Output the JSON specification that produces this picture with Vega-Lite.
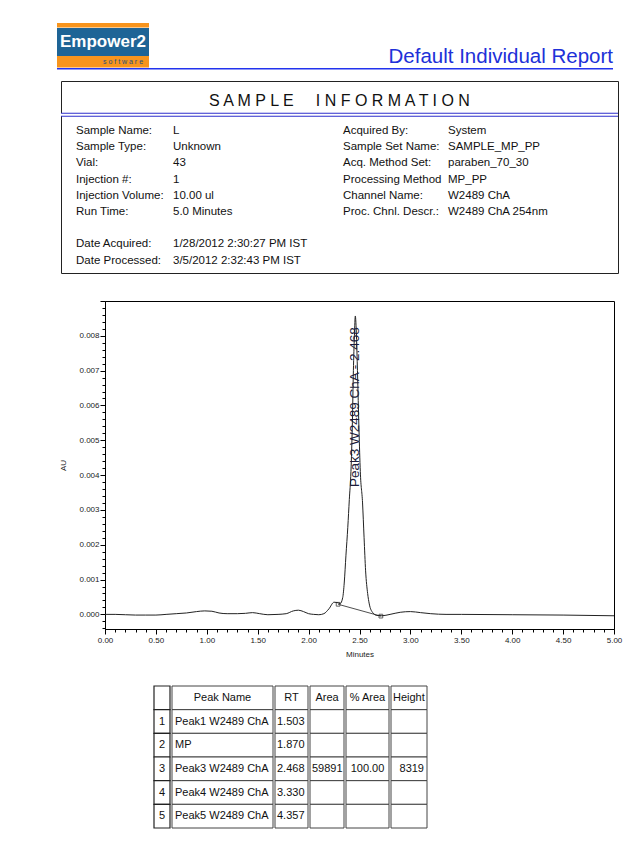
{
  "$schema": "https://vega.github.io/schema/vega-lite/v6.json",
  "background": "white",
  "padding": {"left": 57, "top": 23, "right": 0, "bottom": 0},
  "spacing": 0,
  "config": {
    "view": {"stroke": null},
    "font": "Liberation Sans",
    "concat": {"spacing": 0},
    "text": {"font": "Liberation Sans", "color": "#111"}
  },
  "datasets": {
    "trace": [
      {"t": 0.00, "au": 0.00000}, {"t": 0.10, "au": 0.00000}, {"t": 0.20, "au": -0.00001}, {"t": 0.30, "au": -0.00002},
      {"t": 0.40, "au": -0.00002}, {"t": 0.50, "au": -0.00002}, {"t": 0.60, "au": 0.00000}, {"t": 0.70, "au": 0.00002},
      {"t": 0.80, "au": 0.00004}, {"t": 0.90, "au": 0.00008}, {"t": 0.98, "au": 0.00010}, {"t": 1.05, "au": 0.00009},
      {"t": 1.12, "au": 0.00004}, {"t": 1.20, "au": 0.00002}, {"t": 1.30, "au": 0.00002}, {"t": 1.38, "au": 0.00003},
      {"t": 1.45, "au": 0.00005}, {"t": 1.52, "au": 0.00002}, {"t": 1.60, "au": -0.00001}, {"t": 1.70, "au": 0.00000},
      {"t": 1.78, "au": 0.00002}, {"t": 1.85, "au": 0.00010}, {"t": 1.90, "au": 0.00012}, {"t": 1.95, "au": 0.00008},
      {"t": 2.00, "au": 0.00002}, {"t": 2.05, "au": 0.00000}, {"t": 2.10, "au": -0.00001}, {"t": 2.15, "au": 0.00002},
      {"t": 2.20, "au": 0.00016}, {"t": 2.25, "au": 0.00035}, {"t": 2.28, "au": 0.00034}, {"t": 2.31, "au": 0.00031},
      {"t": 2.335, "au": 0.00048}, {"t": 2.35, "au": 0.00090}, {"t": 2.367, "au": 0.00170}, {"t": 2.385, "au": 0.00250},
      {"t": 2.40, "au": 0.00330}, {"t": 2.416, "au": 0.00410}, {"t": 2.43, "au": 0.00550}, {"t": 2.44, "au": 0.00700},
      {"t": 2.45, "au": 0.00800}, {"t": 2.459, "au": 0.00857}, {"t": 2.47, "au": 0.00800}, {"t": 2.48, "au": 0.00700},
      {"t": 2.495, "au": 0.00530}, {"t": 2.508, "au": 0.00410}, {"t": 2.53, "au": 0.00320}, {"t": 2.545, "au": 0.00220},
      {"t": 2.56, "au": 0.00125}, {"t": 2.58, "au": 0.00060}, {"t": 2.596, "au": 0.00030}, {"t": 2.63, "au": 0.00005},
      {"t": 2.67, "au": -0.00003}, {"t": 2.72, "au": -0.00004}, {"t": 2.80, "au": 0.00000}, {"t": 2.90, "au": 0.00006},
      {"t": 3.00, "au": 0.00008}, {"t": 3.10, "au": 0.00005}, {"t": 3.20, "au": 0.00002}, {"t": 3.35, "au": 0.00000},
      {"t": 3.50, "au": 0.00000}, {"t": 4.00, "au": -0.00001}, {"t": 4.50, "au": -0.00002}, {"t": 5.00, "au": -0.00004}
    ],
    "intbase": [
      {"t": 2.29, "au": 0.00029},
      {"t": 2.71, "au": -0.00005}
    ],
    "peaklabel": [
      {"t": 2.46, "au": 0.00595, "label": "Peak3 W2489 ChA - 2.468"}
    ],
    "info": [
      {"side": 0, "line": 1, "label": "Sample Name:", "value": "L"},
      {"side": 0, "line": 2, "label": "Sample Type:", "value": "Unknown"},
      {"side": 0, "line": 3, "label": "Vial:", "value": "43"},
      {"side": 0, "line": 4, "label": "Injection #:", "value": "1"},
      {"side": 0, "line": 5, "label": "Injection Volume:", "value": "10.00 ul"},
      {"side": 0, "line": 6, "label": "Run Time:", "value": "5.0 Minutes"},
      {"side": 0, "line": 8, "label": "Date Acquired:", "value": "1/28/2012 2:30:27 PM IST"},
      {"side": 0, "line": 9, "label": "Date Processed:", "value": "3/5/2012 2:32:43 PM IST"},
      {"side": 1, "line": 1, "label": "Acquired By:", "value": "System"},
      {"side": 1, "line": 2, "label": "Sample Set Name:", "value": "SAMPLE_MP_PP"},
      {"side": 1, "line": 3, "label": "Acq. Method Set:", "value": "paraben_70_30"},
      {"side": 1, "line": 4, "label": "Processing Method", "value": "MP_PP"},
      {"side": 1, "line": 5, "label": "Channel Name:", "value": "W2489 ChA"},
      {"side": 1, "line": 6, "label": "Proc. Chnl. Descr.:", "value": "W2489 ChA 254nm"}
    ],
    "table": [
      {"row": 0, "idx": "", "name": "Peak Name", "rt": "RT", "area": "Area", "pct": "% Area", "height": "Height"},
      {"row": 1, "idx": "1", "name": "Peak1 W2489 ChA", "rt": "1.503", "area": "", "pct": "", "height": ""},
      {"row": 2, "idx": "2", "name": "MP", "rt": "1.870", "area": "", "pct": "", "height": ""},
      {"row": 3, "idx": "3", "name": "Peak3 W2489 ChA", "rt": "2.468", "area": "59891", "pct": "100.00", "height": "8319"},
      {"row": 4, "idx": "4", "name": "Peak4 W2489 ChA", "rt": "3.330", "area": "", "pct": "", "height": ""},
      {"row": 5, "idx": "5", "name": "Peak5 W2489 ChA", "rt": "4.357", "area": "", "pct": "", "height": ""}
    ]
  },
  "vconcat": [
    {
      "spacing": 0,
      "hconcat": [
        {
          "spacing": 0,
          "vconcat": [
            {"width": 92, "height": 4.5, "data": {"values": [{}]}, "mark": {"type": "rect", "color": "#f7941d"}},
            {
              "width": 92, "height": 28,
              "data": {"values": [{"t": "Empower2"}]},
              "layer": [
                {"mark": {"type": "rect", "color": "#1e6496"}},
                {"mark": {"type": "text", "color": "#ffffff", "fontSize": 17, "fontWeight": "bold"}, "encoding": {"text": {"field": "t"}}}
              ]
            },
            {
              "width": 92, "height": 11.5,
              "data": {"values": [{"t": "s o f t w a r e"}]},
              "layer": [
                {"mark": {"type": "rect", "color": "#f7941d"}},
                {"mark": {"type": "text", "color": "#1e4f80", "fontSize": 7, "dx": 20}, "encoding": {"text": {"field": "t"}}}
              ]
            }
          ]
        },
        {
          "width": 464, "height": 44,
          "data": {"values": [{"t": "Default Individual Report"}]},
          "mark": {"type": "text", "align": "right", "baseline": "bottom", "fontSize": 20.5, "color": "#2030d8"},
          "encoding": {"text": {"field": "t"}, "x": {"value": "width"}, "y": {"value": "height"}}
        }
      ]
    },
    {"width": 556, "height": 1.5, "data": {"values": [{}]}, "mark": {"type": "rect", "color": "#2233ee"}},
    {"width": 10, "height": 10, "data": {"values": [{}]}, "mark": {"type": "rect", "opacity": 0}},
    {
      "spacing": 0,
      "hconcat": [
        {"width": 0.5, "height": 192, "data": {"values": [{}]}, "mark": {"type": "rect", "opacity": 0}},
        {
          "width": 557, "height": 192,
          "view": {"stroke": "#222", "strokeWidth": 1, "fill": "white"},
          "resolve": {"scale": {"x": "independent"}},
          "layer": [
            {
              "data": {"values": [{"line": 0}]},
              "mark": {"type": "rule", "color": "#2f2fcc", "strokeWidth": 4},
              "encoding": {"y": {"field": "line", "type": "quantitative", "axis": null, "scale": {"domain": [-2.0864, 9.7654], "reverse": true, "nice": false, "zero": false}}}
            },
            {
              "data": {"values": [{"line": 0}]},
              "mark": {"type": "rule", "color": "#ffffff", "strokeWidth": 2},
              "encoding": {"y": {"field": "line", "type": "quantitative", "axis": null, "scale": {"domain": [-2.0864, 9.7654], "reverse": true, "nice": false, "zero": false}}}
            },
            {
              "data": {"values": [{"line": -1, "t": "S A M P L E \u00a0\u00a0\u00a0 I N F O R M A T I O N"}]},
              "mark": {"type": "text", "fontSize": 16, "dy": 2, "color": "#111"},
              "encoding": {
                "y": {"field": "line", "type": "quantitative", "axis": null, "scale": {"domain": [-2.0864, 9.7654], "reverse": true, "nice": false, "zero": false}},
                "text": {"field": "t"}
              }
            },
            {
              "data": {"name": "info"},
              "mark": {"type": "text", "align": "left", "baseline": "middle", "fontSize": 11.5, "color": "#111"},
              "encoding": {
                "x": {"field": "side", "type": "quantitative", "axis": null, "scale": {"domain": [-0.05618, 2.03], "nice": false, "zero": false}},
                "y": {"field": "line", "type": "quantitative", "axis": null, "scale": {"domain": [-2.0864, 9.7654], "reverse": true, "nice": false, "zero": false}},
                "text": {"field": "label"}
              }
            },
            {
              "data": {"name": "info"},
              "mark": {"type": "text", "align": "left", "baseline": "middle", "fontSize": 11.5, "color": "#111"},
              "encoding": {
                "x": {"field": "side", "type": "quantitative", "axis": null, "scale": {"domain": [-0.40727, 1.61818], "nice": false, "zero": false}},
                "y": {"field": "line", "type": "quantitative", "axis": null, "scale": {"domain": [-2.0864, 9.7654], "reverse": true, "nice": false, "zero": false}},
                "text": {"field": "value"}
              }
            }
          ]
        }
      ]
    },
    {"width": 10, "height": 21.5, "data": {"values": [{}]}, "mark": {"type": "rect", "opacity": 0}},
    {
      "spacing": 0,
      "hconcat": [
        {"width": 1, "height": 328, "data": {"values": [{}]}, "mark": {"type": "rect", "opacity": 0}},
        {
          "width": 509, "height": 328,
          "view": {"stroke": "#000", "strokeWidth": 1},
          "encoding": {
            "x": {
              "field": "t", "type": "quantitative", "title": "Minutes",
              "scale": {"domain": [0, 5], "nice": false, "zero": false},
              "axis": {
                "values": [0, 0.1, 0.2, 0.3, 0.4, 0.5, 0.6, 0.7, 0.8, 0.9, 1, 1.1, 1.2, 1.3, 1.4, 1.5, 1.6, 1.7, 1.8, 1.9, 2, 2.1, 2.2, 2.3, 2.4, 2.5, 2.6, 2.7, 2.8, 2.9, 3, 3.1, 3.2, 3.3, 3.4, 3.5, 3.6, 3.7, 3.8, 3.9, 4, 4.1, 4.2, 4.3, 4.4, 4.5, 4.6, 4.7, 4.8, 4.9, 5],
                "labelExpr": "abs(round(datum.value*2)-datum.value*2) < 0.001 ? format(datum.value, '.2f') : ''",
                "tickSize": {"condition": {"test": "abs(round(datum.value*2)-datum.value*2) < 0.001", "value": 5}, "value": 3},
                "labelOverlap": false, "labelFlush": false, "labelBound": false,
                "grid": false, "domainColor": "#000", "tickColor": "#000", "tickWidth": 1,
                "labelFontSize": 8, "labelColor": "#222", "labelPadding": 2,
                "titleFontSize": 8, "titleFontWeight": "normal", "titleColor": "#222", "titlePadding": 6
              }
            },
            "y": {
              "field": "au", "type": "quantitative", "title": "AU",
              "scale": {"domain": [-0.00042, 0.009], "nice": false, "zero": false},
              "axis": {
                "values": [-0.0004, -0.0002, 0, 0.0002, 0.0004, 0.0006, 0.0008, 0.001, 0.0012, 0.0014, 0.0016, 0.0018, 0.002, 0.0022, 0.0024, 0.0026, 0.0028, 0.003, 0.0032, 0.0034, 0.0036, 0.0038, 0.004, 0.0042, 0.0044, 0.0046, 0.0048, 0.005, 0.0052, 0.0054, 0.0056, 0.0058, 0.006, 0.0062, 0.0064, 0.0066, 0.0068, 0.007, 0.0072, 0.0074, 0.0076, 0.0078, 0.008, 0.0082, 0.0084, 0.0086, 0.0088, 0.009],
                "labelExpr": "(abs(round(datum.value*1000)-datum.value*1000) < 0.01 && datum.value < 0.0085) ? format(datum.value, '.3f') : ''",
                "tickSize": {"condition": {"test": "abs(round(datum.value*1000)-datum.value*1000) < 0.01", "value": 5}, "value": 3},
                "labelOverlap": false, "labelFlush": false, "labelBound": false,
                "grid": false, "domainColor": "#000", "tickColor": "#000", "tickWidth": 1,
                "labelFontSize": 8, "labelColor": "#222", "labelPadding": 1,
                "titleFontSize": 8, "titleFontWeight": "normal", "titleColor": "#222", "titlePadding": 8,
                "minExtent": 30, "maxExtent": 30
              }
            }
          },
          "layer": [
            {"data": {"name": "trace"}, "mark": {"type": "line", "color": "#222", "strokeWidth": 1, "interpolate": "monotone"}, "encoding": {}},
            {"data": {"name": "intbase"}, "mark": {"type": "line", "color": "#222", "strokeWidth": 0.8}, "encoding": {}},
            {"data": {"name": "intbase"}, "mark": {"type": "point", "shape": "square", "size": 14, "filled": false, "color": "#222", "strokeWidth": 1}},
            {"data": {"name": "peaklabel"}, "mark": {"type": "text", "angle": 270, "fontSize": 13.5, "color": "#1b1b3a", "align": "center", "baseline": "middle"}, "encoding": {"text": {"field": "label"}}}
          ]
        }
      ]
    },
    {"width": 10, "height": 25.5, "data": {"values": [{}]}, "mark": {"type": "rect", "opacity": 0}},
    {
      "spacing": 0,
      "hconcat": [
        {"width": 96, "height": 142, "data": {"values": [{}]}, "mark": {"type": "rect", "opacity": 0}},
        {
          "width": 16, "height": 142, "data": {"name": "table"},
          "encoding": {"y": {"field": "row", "type": "ordinal", "axis": null, "scale": {"paddingInner": 0, "paddingOuter": 0}}},
          "layer": [
            {"mark": {"type": "rect", "fill": "#fff", "stroke": "#222", "strokeWidth": 1.2}},
            {"mark": {"type": "text", "fontSize": 11, "align": "center", "baseline": "middle"}, "encoding": {"text": {"field": "idx"}}}
          ]
        },
        {
          "width": 101, "height": 142, "data": {"name": "table"},
          "encoding": {"y": {"field": "row", "type": "ordinal", "axis": null, "scale": {"paddingInner": 0, "paddingOuter": 0}}},
          "layer": [
            {"mark": {"type": "rect", "fill": "#fff", "stroke": "#444", "strokeWidth": 1}},
            {"transform": [{"filter": "datum.row == 0"}], "mark": {"type": "text", "fontSize": 11, "align": "center", "baseline": "middle"}, "encoding": {"text": {"field": "name"}}},
            {"transform": [{"filter": "datum.row > 0"}], "mark": {"type": "text", "fontSize": 11, "align": "left", "baseline": "middle", "dx": -47.5}, "encoding": {"text": {"field": "name"}}}
          ]
        },
        {
          "width": 33, "height": 142, "data": {"name": "table"},
          "encoding": {"y": {"field": "row", "type": "ordinal", "axis": null, "scale": {"paddingInner": 0, "paddingOuter": 0}}},
          "layer": [
            {"mark": {"type": "rect", "fill": "#fff", "stroke": "#444", "strokeWidth": 1}},
            {"transform": [{"filter": "datum.row == 0"}], "mark": {"type": "text", "fontSize": 11, "align": "center", "baseline": "middle"}, "encoding": {"text": {"field": "rt"}}},
            {"transform": [{"filter": "datum.row > 0"}], "mark": {"type": "text", "fontSize": 11, "align": "left", "baseline": "middle", "dx": -14.5}, "encoding": {"text": {"field": "rt"}}}
          ]
        },
        {
          "width": 34, "height": 142, "data": {"name": "table"},
          "encoding": {"y": {"field": "row", "type": "ordinal", "axis": null, "scale": {"paddingInner": 0, "paddingOuter": 0}}},
          "layer": [
            {"mark": {"type": "rect", "fill": "#fff", "stroke": "#444", "strokeWidth": 1}},
            {"transform": [{"filter": "datum.row == 0"}], "mark": {"type": "text", "fontSize": 11, "align": "center", "baseline": "middle"}, "encoding": {"text": {"field": "area"}}},
            {"transform": [{"filter": "datum.row > 0"}], "mark": {"type": "text", "fontSize": 11, "align": "left", "baseline": "middle", "dx": -15}, "encoding": {"text": {"field": "area"}}}
          ]
        },
        {
          "width": 43, "height": 142, "data": {"name": "table"},
          "encoding": {"y": {"field": "row", "type": "ordinal", "axis": null, "scale": {"paddingInner": 0, "paddingOuter": 0}}},
          "layer": [
            {"mark": {"type": "rect", "fill": "#fff", "stroke": "#444", "strokeWidth": 1}},
            {"mark": {"type": "text", "fontSize": 11, "align": "center", "baseline": "middle"}, "encoding": {"text": {"field": "pct"}}}
          ]
        },
        {
          "width": 36, "height": 142, "data": {"name": "table"},
          "encoding": {"y": {"field": "row", "type": "ordinal", "axis": null, "scale": {"paddingInner": 0, "paddingOuter": 0}}},
          "layer": [
            {"mark": {"type": "rect", "fill": "#fff", "stroke": "#444", "strokeWidth": 1}},
            {"transform": [{"filter": "datum.row == 0"}], "mark": {"type": "text", "fontSize": 11, "align": "left", "baseline": "middle", "dx": -16}, "encoding": {"text": {"field": "height"}}},
            {"transform": [{"filter": "datum.row > 0"}], "mark": {"type": "text", "fontSize": 11, "align": "right", "baseline": "middle", "dx": 15}, "encoding": {"text": {"field": "height"}}}
          ]
        }
      ]
    }
  ]
}
